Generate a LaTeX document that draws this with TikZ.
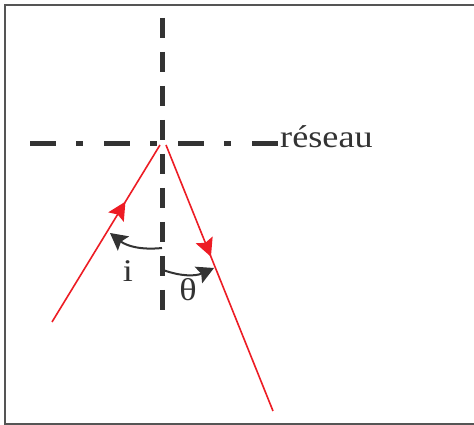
\documentclass[tikz,border=0pt]{standalone}
\usepackage{fontspec}
\setmainfont{Liberation Serif}
\newfontfamily\widefont[FakeStretch=1.15]{Liberation Serif}
\usetikzlibrary{arrows.meta,decorations.markings}
\definecolor{ink}{HTML}{333333}
\definecolor{ray}{HTML}{ED1C24}
\definecolor{frame}{HTML}{555555}
\tikzset{
  axisline/.style={ink, line width=5pt},
  rayline/.style={ray, line width=1.6pt},
  angarc/.style={ink, line width=2pt, -{Stealth[length=17pt,width=18pt,inset=3pt]}},
  raytip/.style={postaction={decorate},decoration={markings,
     mark=at position #1 with {\arrow{Stealth[length=18pt,width=18pt,inset=3pt]}}}},
  lbl/.style={ink, font=\widefont\fontsize{31.5}{33}\selectfont, inner sep=0pt}
}
\begin{document}
\begin{tikzpicture}[x=1pt,y=1pt]
\useasboundingbox (0,0) rectangle (474,425);
\clip (0,0) rectangle (474,425);
\fill[white] (0,0) rectangle (474,425);
\draw[frame, line width=1.6pt] (5,1) rectangle (490,420);
% grating (horizontal dash-dot) and normal (vertical dashed)
\draw[axisline, dash pattern=on 26pt off 20pt on 7pt off 21pt] (30,281) -- (278,281);
\draw[axisline, dash pattern=on 20pt off 14pt] (162,407) -- (162,114);
\node[lbl, anchor=base west] (reseau) at (280,277) {réseau};
% rays
\coordinate (A1) at (160,280);
\coordinate (A2) at (166,280);
\coordinate (L) at (52,103);
\coordinate (R) at (273,14);
\draw[rayline, raytip=0.68] (L) -- (A1);
\draw[rayline, raytip=0.42] (A2) -- (R);
% angle markers
\coordinate (i1) at (162,177);
\coordinate (i2) at (110,192);
\coordinate (t1) at (163,155);
\coordinate (t2) at (214,157);
\draw[angarc] (i1) to[bend left=22] (i2);
\draw[angarc] (t1) to[bend right=22] (t2);
\node[lbl, anchor=base] (i) at (128,143) {i};
\node[lbl, anchor=base] (theta) at (188,124) {θ};
\end{tikzpicture}
\end{document}
